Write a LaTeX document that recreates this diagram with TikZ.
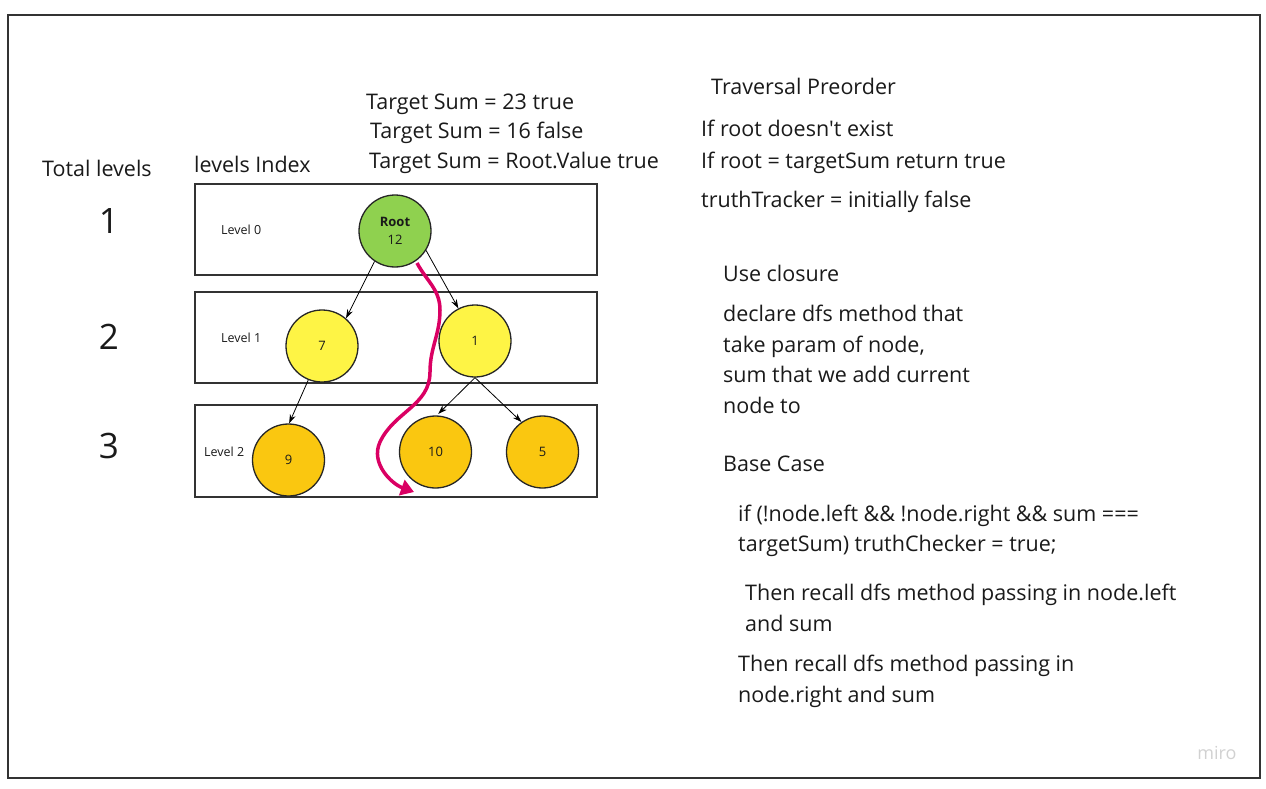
\documentclass[tikz,border=0pt]{standalone}
\usepackage{fontspec}
\setmainfont{Open Sans}
\usetikzlibrary{arrows.meta}
\definecolor{miroGreen}{HTML}{8FD14F}
\definecolor{miroYellow}{HTML}{FEF445}
\definecolor{miroOrange}{HTML}{FAC710}
\definecolor{miroMagenta}{HTML}{DA0063}
\definecolor{frameGray}{HTML}{333333}
\definecolor{inkGray}{HTML}{1A1A1A}

\tikzset{
  bigtext/.style={anchor=base west, inner sep=0pt, text=inkGray, font=\fontsize{21.5}{26}\selectfont},
  lvlnum/.style={anchor=base, inner sep=0pt, text=inkGray, font=\fontsize{35}{40}\selectfont},
  lvltag/.style={anchor=base west, inner sep=0pt, text=inkGray, font=\fontsize{12.5}{15}\selectfont},
  levelbox/.style={draw=frameGray, line width=1.6pt},
  treenode/.style={circle, draw=black!85, line width=1.3pt, minimum size=72pt, inner sep=0pt,
    align=center, text=inkGray, font=\fontsize{13}{18}\selectfont},
  childarrow/.style={-{Stealth[length=9pt,width=6pt]}, line width=0.8pt},
  traverse/.style={miroMagenta, line width=3.5pt, -{Triangle[length=13pt,width=16pt]}},
}

\begin{document}
\begin{tikzpicture}[x=1pt, y=-1pt]
  \useasboundingbox (0,0) rectangle (1266,789);
  \draw[line width=2pt, frameGray] (8,15) rectangle (1260,778);

  % level boxes
  \foreach \top/\bot in {184/275, 292/383, 405/497}
    \draw[levelbox] (195,\top) rectangle (597,\bot);
  \node[lvltag] (tag0) at (221,234) {Level 0};
  \node[lvltag] (tag1) at (221,342) {Level 1};
  \node[lvltag] (tag2) at (204,456) {Level 2};

  % total levels column
  \node[bigtext] (totallbl) at (42,176) {Total levels};
  \node[bigtext] (indexlbl) at (194,172) {levels Index};
  \node[lvlnum] (num1) at (109,233) {1};
  \node[lvlnum] (num2) at (109,349) {2};
  \node[lvlnum] (num3) at (109,458) {3};

  % target sums
  \node[bigtext] (ts1) at (366,110) {Target Sum = 23 true};
  \node[bigtext] (ts2) at (370,139) {Target Sum = 16 false};
  \node[bigtext] (ts3) at (369,168) {Target Sum = Root.Value true};

  % tree
  \node[treenode, fill=miroGreen] (root) at (395,231) {\textbf{Root}\\12};
  \node[treenode, fill=miroYellow] (n7) at (322,346) {7};
  \node[treenode, fill=miroYellow] (n1) at (475,341) {1};
  \node[treenode, fill=miroOrange] (n9) at (288.5,460) {9};
  \node[treenode, fill=miroOrange] (n10) at (435.5,452) {10};
  \node[treenode, fill=miroOrange] (n5) at (542.5,452) {5};

  \draw[childarrow] (root.236) -- (n7.49);
  \draw[childarrow] (root.328) -- (n1.117);
  \draw[childarrow] (n7.248) -- (n9.89);
  \draw[childarrow, shorten >=2pt] (n1.270) -- (n10.88);
  \draw[childarrow] (n1.270) -- (n5.125);

  % preorder path
  \coordinate (pathA) at (417,263);
  \coordinate (pathB) at (440,310);
  \coordinate (pathC) at (430,372);
  \coordinate (pathD) at (380,442);
  \coordinate (pathE) at (414,492);
  \draw[traverse] (pathA) to[out=-62,in=90] (pathB) to[out=-90,in=90] (pathC)
    to[out=-90,in=65] (pathD) to[out=-115,in=160] (pathE);

  % notes
  \node[bigtext] (travlbl) at (711,95) {Traversal Preorder};
  \foreach \y/\t in {137/{If root doesn\textquotesingle t exist}, 168/{If root = targetSum return true},
      207/{truthTracker = initially false}}
    \node[bigtext] at (701,\y) {\t};
  \foreach \y/\t in {281/{Use closure}, 321/{declare dfs method that}, 352/{take param of node,},
      382/{sum that we add current}, 413/{node to}, 471/{Base Case}}
    \node[bigtext] at (723,\y) {\t};
  \node[bigtext] (basecase1) at (738,521) {if (!node.left \&\& !node.right \&\& sum ===};
  \node[bigtext] (basecase2) at (738,551) {targetSum) truthChecker = true;};
  \node[bigtext] (recall1) at (745,600) {Then recall dfs method passing in node.left};
  \node[bigtext] (recall2) at (745,631) {and sum};
  \node[bigtext] (recall3) at (738,671) {Then recall dfs method passing in};
  \node[bigtext] (recall4) at (738,702) {node.right and sum};

  \node[anchor=base, text=black!18, font=\fontsize{18}{20}\selectfont] (miro) at (1217,759) {miro};
\end{tikzpicture}
\end{document}
